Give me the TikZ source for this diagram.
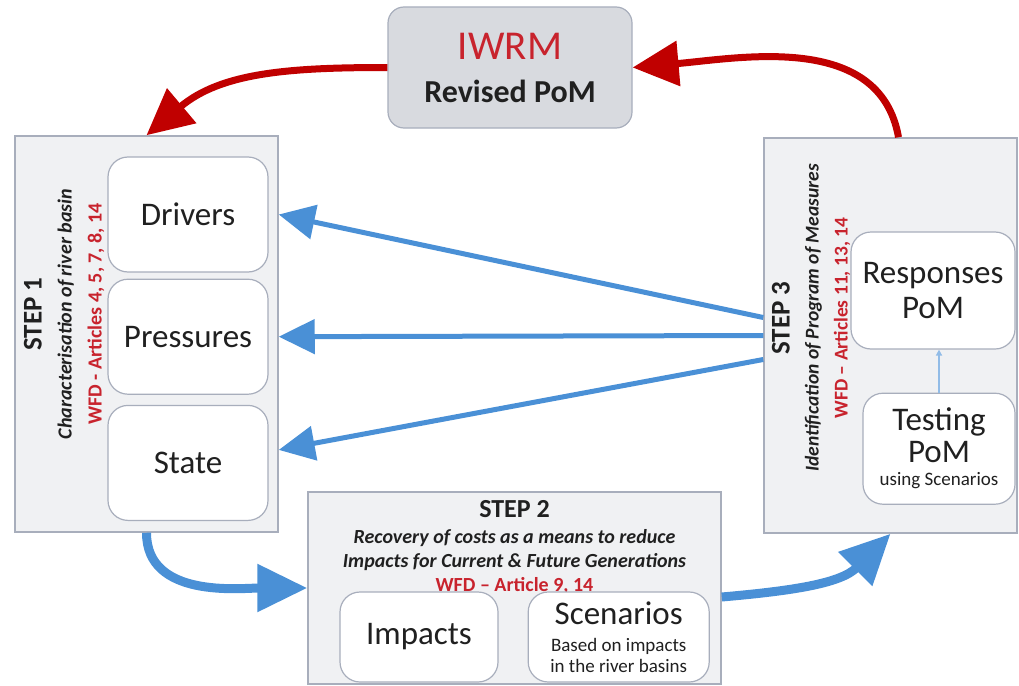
\documentclass[tikz,border=0pt]{standalone}
\usepackage{fontspec}
\setmainfont{Carlito}
\usetikzlibrary{positioning,calc,arrows.meta}

\definecolor{boxgray}{RGB}{240,241,243}
\definecolor{edgegray}{RGB}{168,174,188}
\definecolor{iwrmfill}{RGB}{216,218,223}
\definecolor{arrowblue}{RGB}{74,144,214}
\definecolor{arrowred}{RGB}{192,0,0}
\definecolor{textred}{RGB}{200,35,45}
\definecolor{txtgray}{RGB}{32,32,32}

\newcommand{\subtext}{\fontsize{19}{22}\selectfont}

\begin{document}
\begin{tikzpicture}[x=1pt,y=-1pt,
  stepbox/.style={draw=edgegray,line width=1.5pt,fill=boxgray,inner sep=0pt},
  itembox/.style={draw=edgegray,line width=1.2pt,fill=white,rounded corners=20pt,inner sep=0pt,align=center,text=txtgray,font=\fontsize{33}{35}\selectfont},
  steptext/.style={align=center,inner sep=0pt,text=txtgray},
  blueline/.style={arrowblue,line width=5pt,-{Triangle[length=36pt,width=34pt]}},
  bluecurve/.style={arrowblue,line width=9pt,-{Triangle[length=50pt,width=46pt]}},
  redcurve/.style={arrowred,line width=7pt,-{Triangle[length=46pt,width=44pt]}}]

\useasboundingbox (0,0) rectangle (1019,685);

% the three steps
\node[stepbox,minimum width=263pt,minimum height=396pt](s1) at (146.5,334){};
\node[stepbox,minimum width=413pt,minimum height=192pt](s2) at (514.5,588){};
\node[stepbox,minimum width=253pt,minimum height=395pt](s3) at (890.5,335.5){};

\node[draw=edgegray,line width=1.2pt,fill=iwrmfill,rounded corners=16pt,minimum width=244pt,minimum height=121pt,align=center,text=txtgray,font=\fontsize{32}{43}\selectfont](iwrm) at (510,67.5)
  {{\fontsize{41}{43}\selectfont\color{textred}IWRM}\\{\bfseries Revised PoM}};

% step 1
\node[itembox,minimum width=160pt,minimum height=115pt](drv) at (188,214.5){Drivers};
\node[itembox,minimum width=160pt,minimum height=115pt,below=6pt of drv](prs){Pressures};
\node[itembox,minimum width=160pt,minimum height=115pt,below=10pt of prs](st){State};
\node[steptext,rotate=90,font=\fontsize{20}{30}\selectfont](s1txt) at (64,314)
  {{\fontsize{27}{30}\selectfont\bfseries STEP 1}\\{\bfseries\itshape Characterisation of river basin}\\{\bfseries\color{textred}WFD - Articles 4, 5, 7, 8, 14}};

% step 2
\node[steptext,font=\fontsize{20}{24}\selectfont,below=9pt of s2.north](s2txt)
  {{\fontsize{26}{28}\selectfont\bfseries STEP 2}\\[2pt]{\bfseries\itshape Recovery of costs as a means to reduce}\\{\bfseries\itshape Impacts for Current \& Future Generations}\\{\bfseries\color{textred}WFD -- Article 9, 14}};
\node[itembox,minimum width=158pt,minimum height=90pt](imp) at (419,637){Impacts};
\node[itembox,minimum width=181pt,minimum height=90pt,right=29pt of imp](scn)
  {Scenarios\\[-8pt]{\subtext Based on impacts}\\[-14pt]{\subtext in the river basins}};

% step 3
\node[itembox,minimum width=164pt,minimum height=117pt](rsp) at (933,290.5){Responses\\PoM};
\node[itembox,minimum width=152pt,minimum height=111pt,below=43pt of rsp,xshift=6pt](tst)
  {Testing\\[-3pt]PoM\\[-12pt]{\subtext using Scenarios}};
\node[steptext,rotate=90,font=\fontsize{19.5}{29}\selectfont](s3txt) at (811,318)
  {{\fontsize{27}{30}\selectfont\bfseries STEP 3}\\{\bfseries\itshape Identification of Program of Measures}\\{\bfseries\color{textred}WFD -- Articles 11, 13, 14}};

\draw[arrowblue!60,line width=1.5pt,-{Triangle[length=6pt,width=6pt]}] (tst.north) -- (tst.north |- rsp.south);

% feedback arrows
\draw[blueline] ($(s3.west)+(0,-18)$) -- (drv.east -| s1.east);
\draw[blueline] (s3.west) -- (prs.east -| s1.east);
\draw[blueline] ($(s3.west)+(0,24)$) -- ($(st.east -| s1.east)+(0,-13)$);

\draw[bluecurve] (s1.south) to[out=-90,in=180] (s2.west);
\draw[bluecurve] ($(s2.east)+(0,9)$) to[out=5,in=225] (s3.south);

\draw[redcurve] (iwrm.west) to[out=180,in=40] (s1.north);
\draw[redcurve] ($(s3.north)+(8,0)$) to[out=100,in=5] (iwrm.east);

\end{tikzpicture}
\end{document}
